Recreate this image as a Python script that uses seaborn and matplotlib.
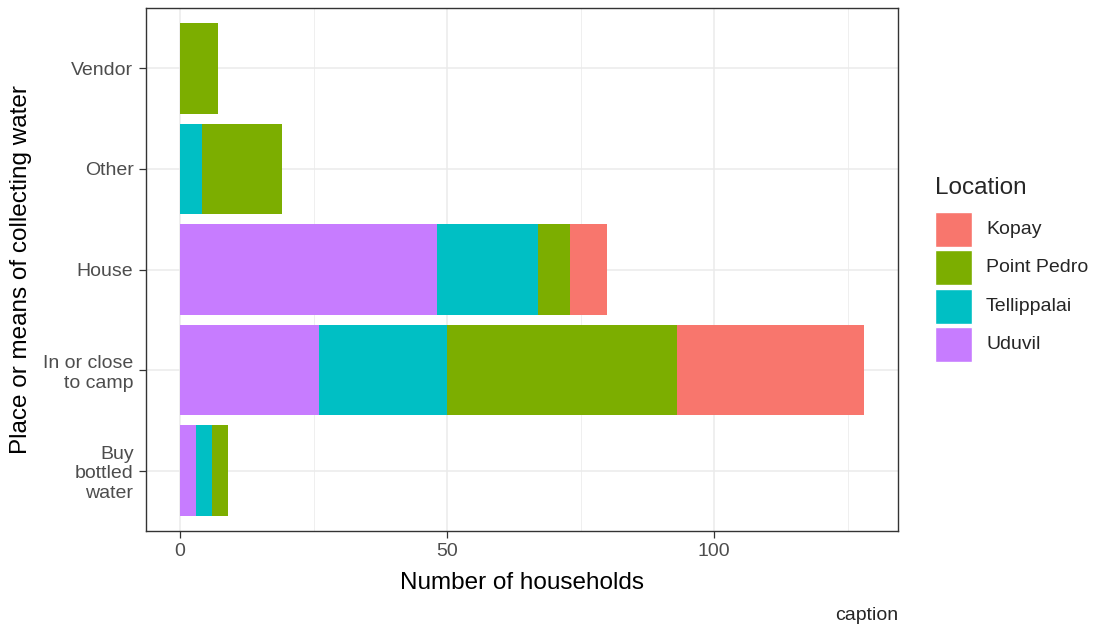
"""Stacked horizontal bars: place of collecting water by location."""

import matplotlib
matplotlib.use("Agg")
import matplotlib.pyplot as plt
from matplotlib.patches import Rectangle
from matplotlib.ticker import MultipleLocator
import pandas as pd
import seaborn as sns

# データ
places = ["Vendor", "Other", "House", "In or close\nto camp", "Buy\nbottled\nwater"]
locations = ["Kopay", "Point Pedro", "Tellippalai", "Uduvil"]
kopay = [0, 0, 7, 35, 0]
point_pedro = [7, 15, 6, 43, 3]
tellippalai = [0, 4, 19, 24, 3]
uduvil = [0, 0, 48, 26, 3]

colors = {"Kopay": "#F8766D", "Point Pedro": "#7CAE00",
          "Tellippalai": "#00BFC4", "Uduvil": "#C77CFF"}

W, H = 1095, 628

sns.set_theme(style="white")
plt.rcParams["font.family"] = ["Liberation Sans", "DejaVu Sans"]

df = pd.DataFrame({"place": places, "Kopay": kopay, "Point Pedro": point_pedro,
                   "Tellippalai": tellippalai, "Uduvil": uduvil})
# 左から Uduvil, Tellippalai, Point Pedro, Kopay の順に積む
stack = ["Uduvil", "Tellippalai", "Point Pedro", "Kopay"]
cum = df[stack].cumsum(axis=1)

fig = plt.figure(figsize=(W / 100, H / 100), dpi=100)
ax = fig.add_axes([146 / W, 1 - 531 / H, (898 - 146) / W, (531 - 8) / H])

for loc in reversed(stack):
    sub = pd.DataFrame({"place": df["place"], "n": cum[loc]})
    sns.barplot(data=sub, x="n", y="place", order=places, orient="h",
                color=colors[loc], saturation=1, width=0.9, errorbar=None,
                linewidth=0, ax=ax)

ax.set_xlim(-6.4, 134.4)
ax.set_ylim(4.6, -0.6)
ax.xaxis.set_major_locator(MultipleLocator(50))
ax.xaxis.set_minor_locator(MultipleLocator(25))
ax.set_axisbelow(True)
ax.grid(which="major", axis="both", color="#EBEBEB", linewidth=1.1)
ax.grid(which="minor", axis="x", color="#EBEBEB", linewidth=0.55)
for s in ax.spines.values():
    s.set_visible(True)
    s.set_color("#333333")
    s.set_linewidth(1.0)
ax.tick_params(axis="both", which="major", length=5, width=0.9, color="#333333",
               labelsize=14, labelcolor="#4D4D4D", pad=4, left=True, bottom=True)
ax.tick_params(axis="x", which="minor", length=0)

ax.set_xlabel("Number of households", fontsize=17.5, color="black", labelpad=8)
ax.set_ylabel("Place or means of collecting water", fontsize=17.5, color="black", labelpad=8)

# 凡例（ggplot 風に手で配置）
fig.text(935 / W, 1 - 188 / H, "Location", ha="left", va="center", fontsize=17.5)
for i, loc in enumerate(locations):
    top = 212 + 38.4 * i
    fig.add_artist(Rectangle((935 / W, 1 - (top + 35) / H), 37 / W, 35 / H,
                             transform=fig.transFigure, facecolor=colors[loc],
                             edgecolor="white", linewidth=1))
    fig.text(986 / W, 1 - (top + 17.5) / H, loc, ha="left", va="center", fontsize=14)

fig.text(898 / W, 1 - 616 / H, "caption", ha="right", va="center", fontsize=14)

fig.savefig("out.png", dpi=100)
plt.close(fig)
